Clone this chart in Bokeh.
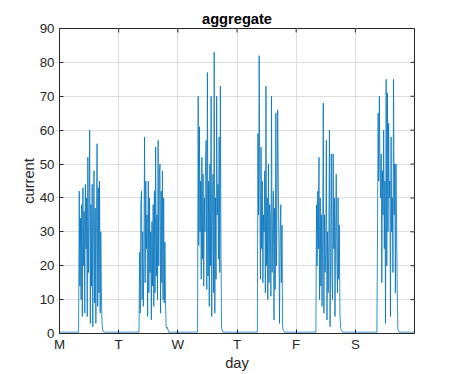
import math
from bokeh.plotting import figure
from bokeh.models import FixedTicker, Range1d
from bokeh.embed import file_html
from bokeh.resources import INLINE

# ---- data ----
day_labels = ["M", "T", "W", "T", "F", "S"]
day_ticks = [0, 1, 2, 3, 4, 5]
y_ticks = [0, 10, 20, 30, 40, 50, 60, 70, 80, 90]
samples_per_day = 96          # 15-minute readings
n_days = 6
baseline = 0.4                # idle current

# start of activity (hour of day) for each day
active_start_hour = [8.0, 8.5, 8.25, 8.4, 8.3, 9.0]

mon = [42, 14, 34, 10, 38, 5, 43, 20, 36, 6, 44, 25, 40, 5, 52, 18, 35, 60, 3, 38,
       14, 44, 2, 30, 48, 9, 37, 3, 33, 56, 8, 43, 12, 45, 6, 30, 12, 3, 1.0, 0.8]
tue = [24, 6, 38, 42, 10, 30, 8, 22, 58, 15, 45, 25, 35, 5, 45, 12, 40, 18, 30, 4,
       33, 14, 38, 8, 42, 12, 55, 17, 35, 10, 57, 20, 47, 50, 6, 42, 15, 48, 10, 40,
       9, 27, 10, 2, 1.5, 1.8, 1.2]
wed = [70, 26, 61, 30, 45, 16, 52, 22, 47, 14, 40, 30, 51, 57, 13, 77, 17, 45, 8, 50,
       20, 70, 5, 35, 47, 12, 83, 6, 40, 16, 70, 35, 44, 22, 58, 18, 73, 25, 1.5, 1.0]
thu = [59, 35, 82, 43, 16, 55, 25, 45, 15, 35, 30, 48, 12, 73, 20, 40, 10, 50, 15, 38,
       35, 11, 70, 18, 33, 42, 4, 37, 13, 65, 20, 40, 66, 45, 25, 3, 30, 38, 15, 32,
       2, 1.0, 0.8]
fri = [38, 20, 42, 25, 52, 10, 40, 14, 35, 8, 30, 68, 6, 35, 18, 24, 57, 4, 30, 12,
       28, 60, 2, 24, 53, 18, 10, 53, 25, 40, 5, 30, 47, 22, 12, 40, 16, 32, 6, 2,
       1.2, 0.8]
sat = [30, 65, 45, 70, 50, 40, 53, 15, 48, 35, 60, 25, 45, 3, 75, 20, 71, 30, 62, 40,
       45, 5, 58, 30, 40, 18, 75, 35, 50, 12, 50, 30, 13, 1.0, 0.8]
active_values = [mon, tue, wed, thu, fri, sat]

# ---- build the time series ----
total = samples_per_day * n_days
t = [k / samples_per_day for k in range(total + 1)]
current = [baseline] * (total + 1)
for d in range(n_days):
    k0 = d * samples_per_day + int(round(active_start_hour[d] * samples_per_day / 24))
    for i, v in enumerate(active_values[d]):
        current[k0 + i] = v

# ---- figure ----
FONT = "Liberation Sans"
TXT = "#262626"
X_MAX, Y_MAX = 6, 90
p = figure(frame_width=355, frame_height=305, output_backend="svg", toolbar_location=None,
           x_range=Range1d(0, X_MAX), y_range=Range1d(0, Y_MAX),
           min_border_left=59, min_border_right=35, min_border_top=28,
           min_border_bottom=33)
p.title.text = "aggregate"
p.title.align = "center"
p.title.text_font = FONT
p.title.text_font_size = "11pt"
p.title.text_font_style = "bold"
p.title.text_color = "#000000"
p.title.offset = 0
p.title.standoff = 4

p.line(t, current, line_color="#0072BD", line_width=0.8)

p.xaxis.ticker = FixedTicker(ticks=day_ticks)
p.xaxis.major_label_overrides = {d: l for d, l in zip(day_ticks, day_labels)}
p.yaxis.ticker = FixedTicker(ticks=y_ticks)
p.xaxis.axis_label = "day"
p.yaxis.axis_label = "current"

for ax in [p.xaxis[0], p.yaxis[0]]:
    ax.major_label_text_font = FONT
    ax.major_label_text_font_size = "10pt"
    ax.major_label_text_color = TXT
    ax.axis_label_text_font = FONT
    ax.axis_label_text_font_size = "11pt"
    ax.axis_label_text_font_style = "normal"
    ax.axis_label_text_color = TXT
    ax.axis_line_color = TXT
    ax.major_tick_line_color = TXT
    ax.major_tick_in = 4
    ax.major_tick_out = 0
    ax.minor_tick_line_color = None
    ax.major_label_standoff = 5
p.xaxis.major_label_standoff = 3
p.xaxis.axis_label_standoff = 0
p.yaxis.axis_label_standoff = 0

# inward tick marks on the top and right sides of the box
p.ray(x=X_MAX, y=y_ticks, length=4, length_units="screen", angle=math.pi,
      line_color=TXT, line_width=1)
p.ray(x=day_ticks, y=Y_MAX, length=4, length_units="screen", angle=-math.pi / 2,
      line_color=TXT, line_width=1)

p.xgrid.grid_line_color = "#dedede"
p.ygrid.grid_line_color = "#dedede"
p.xgrid.ticker = FixedTicker(ticks=day_ticks)
p.ygrid.ticker = FixedTicker(ticks=y_ticks)
p.outline_line_color = TXT
p.outline_line_alpha = 1
p.background_fill_color = "white"
p.border_fill_color = "white"

open("out.html", "w").write(file_html(p, INLINE))
